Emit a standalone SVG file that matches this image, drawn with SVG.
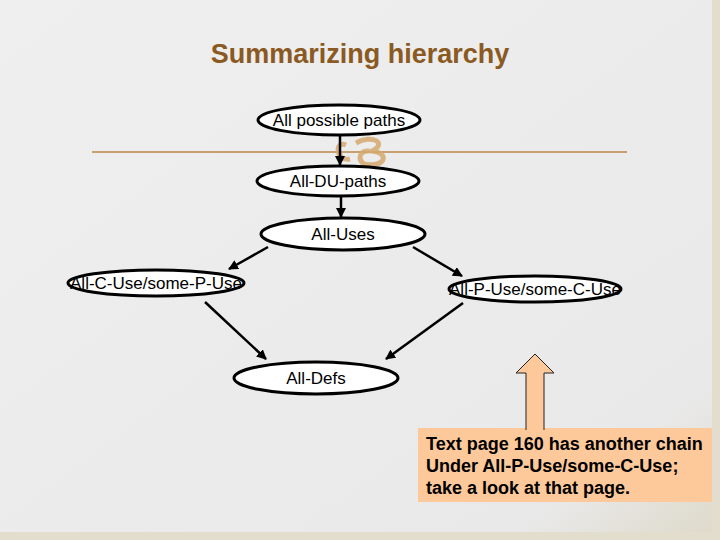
<svg xmlns="http://www.w3.org/2000/svg" width="720" height="540" viewBox="0 0 720 540">
<defs>
<linearGradient id="bg" x1="0" y1="0" x2="1" y2="1"><stop offset="0" stop-color="#efefef"/><stop offset="0.85" stop-color="#e9e9e9"/><stop offset="1" stop-color="#ddd8c8"/></linearGradient>
<marker id="ah" markerWidth="10" markerHeight="10" refX="9" refY="5" orient="auto" markerUnits="userSpaceOnUse"><path d="M0,0 L10,5 L0,10 Z" fill="#000"/></marker>
<style>
.n{fill:#fff;stroke:#000;stroke-width:3}
.t{font-family:"Liberation Sans",Arial,sans-serif;font-size:17px;fill:#000;text-anchor:middle}
.c line{stroke:#000;stroke-width:2.5;marker-end:url(#ah)}
.b{font-family:"Liberation Sans",Arial,sans-serif;font-size:18px;font-weight:bold;fill:#000}
</style>
</defs>
<rect width="720" height="540" fill="url(#bg)"/>
<rect x="712" y="0" width="8" height="540" fill="#e2ddcc"/>
<rect x="0" y="532" width="720" height="8" fill="#e2ddcc"/>
<text x="360" y="63" text-anchor="middle" font-family="Liberation Sans,Arial,sans-serif" font-size="27" font-weight="bold" fill="#8a5a22">Summarizing hierarchy</text>
<line x1="92" y1="152" x2="627" y2="152" stroke="#c8a070" stroke-width="2"/>
<path d="M346,145 C334,140 336,162 350,159 M356,143 C372,134 388,143 372,151 C390,153 386,168 364,164 C357,159 360,150 369,151" fill="none" stroke="#d6a86e" stroke-width="5" opacity="0.85"/>
<g class="c">
<line x1="340" y1="136" x2="340" y2="165"/>
<line x1="341" y1="197" x2="341" y2="217"/>
<line x1="268" y1="247" x2="229" y2="269"/>
<line x1="413" y1="247" x2="462" y2="276"/>
<line x1="205" y1="302" x2="266" y2="359"/>
<line x1="463" y1="303" x2="386" y2="359"/>
</g>
<g id="n1"><ellipse class="n" cx="339" cy="120" rx="81" ry="15"/><text class="t" x="339" y="126">All possible paths</text></g>
<g id="n2"><ellipse class="n" cx="338" cy="181" rx="81" ry="15"/><text class="t" x="338" y="187">All-DU-paths</text></g>
<g id="n3"><ellipse class="n" cx="343" cy="234" rx="82" ry="16"/><text class="t" x="343" y="240">All-Uses</text></g>
<g id="n4"><ellipse class="n" cx="156" cy="283" rx="88" ry="13"/><text class="t" x="156" y="289">All-C-Use/some-P-Use</text></g>
<g id="n5"><ellipse class="n" cx="535" cy="289" rx="86" ry="13"/><text class="t" x="535" y="295">All-P-Use/some-C-Use</text></g>
<g id="n6"><ellipse class="n" cx="316" cy="378" rx="82" ry="16"/><text class="t" x="316" y="384">All-Defs</text></g>
<g id="note">
<rect x="418" y="428" width="294" height="74" fill="#fdc99a"/>
<path d="M526,430 L526,373 L516,373 L535,354 L554,373 L544,373 L544,430" fill="#fdc99a" stroke="#222" stroke-width="1"/>
<text class="b" x="426" y="450">Text page 160 has another chain</text>
<text class="b" x="426" y="472">Under All-P-Use/some-C-Use;</text>
<text class="b" x="426" y="494">take a look at that page.</text>
</g>
</svg>
